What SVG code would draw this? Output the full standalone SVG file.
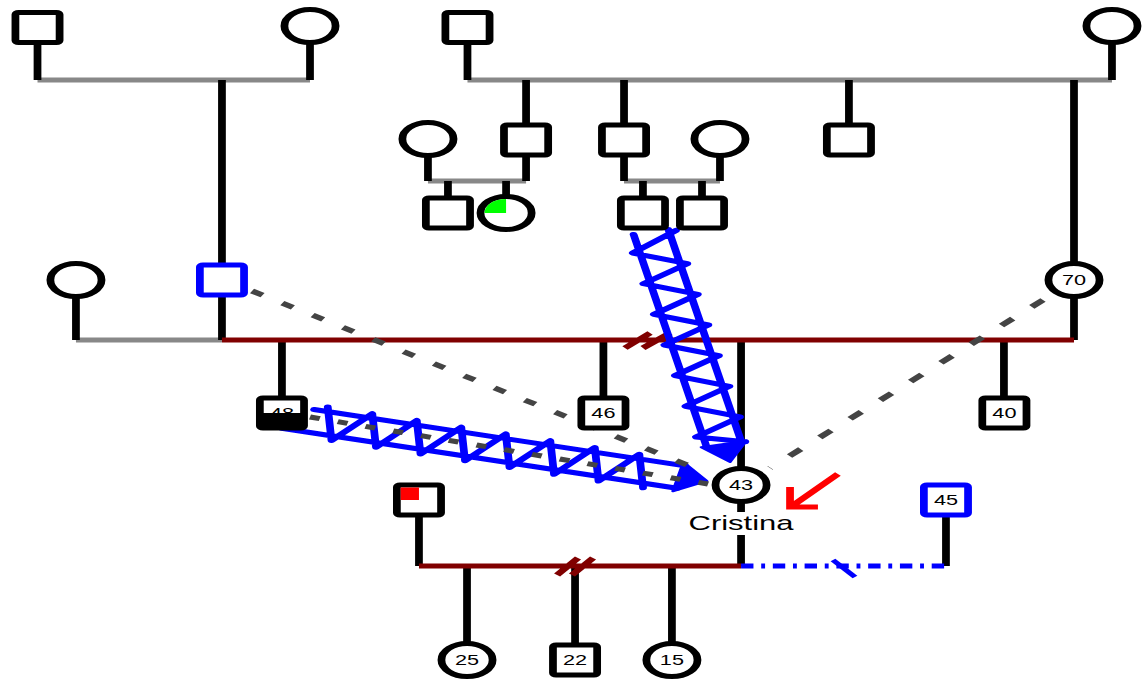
<svg xmlns="http://www.w3.org/2000/svg" width="1143" height="681" viewBox="0 0 1143 681">
<style>
.sq{fill:#fff;stroke:#000;stroke-width:5}
.ci{fill:#fff;stroke:#000;stroke-width:5}
.blue{stroke:#00f}
.lbl{font-family:"Liberation Sans",Arial,sans-serif;font-size:14px;text-anchor:middle;fill:#000}
.big{font-size:20px}
.g{stroke:#888;stroke-width:5;fill:none}
.k{stroke:#000;stroke-width:5;fill:none}
.r{stroke:#800000;stroke-width:5;fill:none}
.z{stroke:#00f;stroke-width:5;fill:none;stroke-linecap:round;stroke-linejoin:round}
.d{stroke:#444;stroke-width:5;fill:none}
</style>
<rect width="1143" height="681" fill="#fff"/>
<g transform="scale(1.55 1)">
<g id="connectors">
  <path class="g" d="M24.2 80H200M301.6 80H717.4M276.1 181H339.4M402.6 181H464.5M49 340H143.2"/>
  <path class="k" d="M24.2 44V80M200 42V80M143.2 80V340M301.6 44V80M717.4 42V80M339.4 80V125M402.6 80V125M547.7 80V125M692.9 80V340M276.1 155V181M339.4 155V181M289 181V198M326.5 181V198M402.6 155V181M464.5 155V181M414.8 181V198M452.9 181V198M49 296V340M181.9 340V398M389.3 340V398M478.1 340V469M647.7 340V398M270.3 515V566M478.1 500V512M478.1 535V566M610.3 515V566M301.3 566V643M371 566V643M433.5 566V643"/>
  <path class="r" d="M143.2 340H692.9M270.3 566H478.1M403.2 348L419.4 333M414.8 348L432.3 333M359.4 575L372.9 558M369 575L382.6 558"/>
  <path d="M478.1 566H610.3" stroke="#00f" stroke-width="5" stroke-dasharray="8 5 2.5 5" fill="none"/>
  <path d="M537.4 560L551.6 577" stroke="#00f" stroke-width="4" fill="none"/>
  <g id="zig1" transform="translate(200 420.7) rotate(13.25)">
    <path class="z" d="M-16 11.5H246M0 -11.5H246M8 -16L18 16L37.5 -16L47.5 16L67 -16L77 16L96.5 -16L106.5 16L126 -16L136 16L155.5 -16L165.5 16L185 -16L195 16L214.5 -16L224.5 16"/>
    <polygon points="244,-15 244,15 263,0" fill="#00f" stroke="#00f" stroke-width="2" stroke-linejoin="round"/>
  </g>
  <g id="zig2" transform="translate(420 232) rotate(77.5)">
    <path class="z" d="M0 -11.5H218M0 11.5H218M2 -16L18 16L36 -16L49.4 16L67.4 -16L80.8 16L98.8 -16L112.2 16L130.2 -16L143.6 16L161.6 -16L175 16L193 -16L206.4 16L218 -14"/>
    <polygon points="217,-15 217,15 235.6,0" fill="#00f" stroke="#00f" stroke-width="2" stroke-linejoin="round"/>
  </g>
  <path class="d" d="M162.6 291L454.8 472" stroke-dasharray="8 15"/>
  <path class="d" d="M672.9 300L496.8 468" stroke-dasharray="10 17"/>
  <path class="d" d="M200 417L456.8 484" stroke-dasharray="6.5 12"/>
  <path d="M540.6 474L511 506M509.7 487V507H527.7" stroke="#f00" stroke-width="5" fill="none"/>
</g>
<g id="n-gf1" transform="translate(24.2 27.5)"><rect class="sq" x="-14.25" y="-15" width="28.5" height="30" rx="2"/></g>
<g id="n-gm1" transform="translate(200 26)"><circle class="ci" r="16.5"/></g>
<g id="n-gf2" transform="translate(301.6 27.5)"><rect class="sq" x="-14.25" y="-15" width="28.5" height="30" rx="2"/></g>
<g id="n-gm2" transform="translate(717.4 26)"><circle class="ci" r="16.5"/></g>
<g id="n-e" transform="translate(276.1 139)"><circle class="ci" r="16.5"/></g>
<g id="n-f" transform="translate(339.4 140)"><rect class="sq" x="-14.25" y="-15" width="28.5" height="30" rx="2"/></g>
<g id="n-g" transform="translate(402.6 140)"><rect class="sq" x="-14.25" y="-15" width="28.5" height="30" rx="2"/></g>
<g id="n-h" transform="translate(464.5 139)"><circle class="ci" r="16.5"/></g>
<g id="n-i" transform="translate(547.7 140)"><rect class="sq" x="-14.25" y="-15" width="28.5" height="30" rx="2"/></g>
<g id="n-70" transform="translate(692.9 280)"><circle class="ci" r="16.5"/><text class="lbl" y="5">70</text></g>
<g id="n-k" transform="translate(49 280)"><circle class="ci" r="16.5"/></g>
<g id="n-l" transform="translate(143.2 280)"><rect class="sq blue" x="-14.25" y="-15" width="28.5" height="30" rx="2"/></g>
<g id="n-m" transform="translate(289 213)"><rect class="sq" x="-14.25" y="-15" width="28.5" height="30" rx="2"/></g>
<g id="n-n" transform="translate(326.5 213)"><circle class="ci" r="16.5"/><path d="M0 0H-14A14 14 0 0 1 0 -14Z" fill="#0f0"/></g>
<g id="n-o" transform="translate(414.8 213)"><rect class="sq" x="-14.25" y="-15" width="28.5" height="30" rx="2"/></g>
<g id="n-p" transform="translate(452.9 213)"><rect class="sq" x="-14.25" y="-15" width="28.5" height="30" rx="2"/></g>
<g id="n-48" transform="translate(181.9 413)"><rect class="sq" x="-14.25" y="-15" width="28.5" height="30" rx="2"/><rect x="-14.25" y="0" width="28.5" height="15" fill="#000"/><text class="lbl" y="5">48</text></g>
<g id="n-46" transform="translate(389.3 413)"><rect class="sq" x="-14.25" y="-15" width="28.5" height="30" rx="2"/><text class="lbl" y="5">46</text></g>
<g id="n-43" transform="translate(478.1 485)"><circle class="ci" r="16.5"/><text class="lbl" y="5">43</text><text class="lbl big" y="45">Cristina</text></g>
<g id="n-40" transform="translate(648 413)"><rect class="sq" x="-14.25" y="-15" width="28.5" height="30" rx="2"/><text class="lbl" y="5">40</text></g>
<g id="n-u" transform="translate(270.3 500)"><rect class="sq" x="-14.25" y="-15" width="28.5" height="30" rx="2"/><rect x="-11.8" y="-12.5" width="11.8" height="12.5" fill="#f00"/></g>
<g id="n-45" transform="translate(610.3 500)"><rect class="sq blue" x="-14.25" y="-15" width="28.5" height="30" rx="2"/><text class="lbl" y="5">45</text></g>
<g id="n-25" transform="translate(301.3 660)"><circle class="ci" r="16.5"/><text class="lbl" y="5">25</text></g>
<g id="n-22" transform="translate(371 660)"><rect class="sq" x="-14.25" y="-15" width="28.5" height="30" rx="2"/><text class="lbl" y="5">22</text></g>
<g id="n-15" transform="translate(433.5 660)"><circle class="ci" r="16.5"/><text class="lbl" y="5">15</text></g>
</g>
</svg>
